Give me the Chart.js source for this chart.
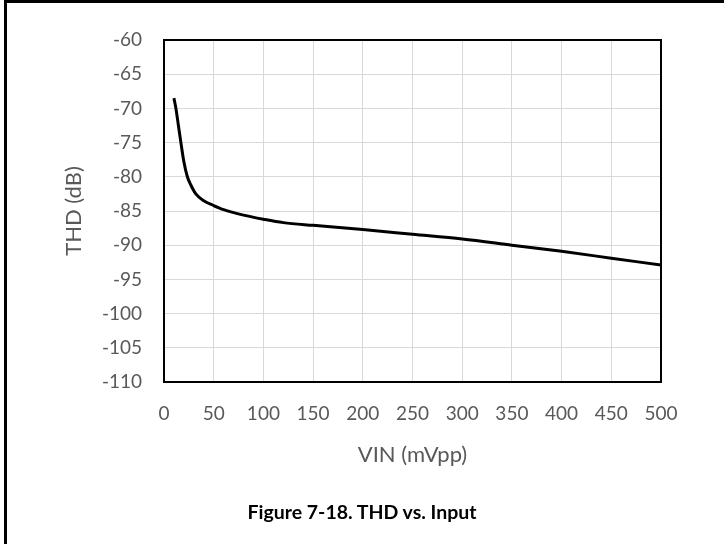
<!DOCTYPE html>
<html>
<head>
<meta charset="utf-8">
<script src="https://cdn.jsdelivr.net/npm/chart.js@4/dist/chart.umd.min.js"></script>
<style>
  html, body { margin: 0; padding: 0; background: #fff; }
  #wrap { position: relative; width: 724px; height: 544px; overflow: hidden; }
  #frame { position: absolute; left: 4px; top: 0; width: 730px; height: 560px;
           border-top: 3px solid #000; border-left: 3px solid #000; box-sizing: border-box; }
  #cv { position: absolute; left: 0; top: 0; }
  #caption { position: absolute; left: 0; width: 724px; top: 500px; text-align: center;
             font-family: Lato, "Noto Sans", sans-serif; font-weight: bold; font-size: 19.5px; color: #000; }
</style>
</head>
<body>
<div id="wrap">
  <div id="frame"></div>
  <canvas id="cv" width="724" height="544"></canvas>
  <div id="caption">Figure 7-18. THD vs. Input</div>
</div>
<script>
// input amplitude (mVpp) and measured THD (dB)
const vin = [10, 12, 14.5, 17, 20, 23.5, 27, 32, 40, 50, 60, 80, 100, 120, 150, 200, 250, 300, 350, 400, 450, 500];
const thd = [-68.5, -70, -72.5, -75, -77.8, -80, -81.2, -82.5, -83.5, -84.2, -84.8, -85.6, -86.2, -86.7, -87.1, -87.7, -88.4, -89.1, -90.0, -90.9, -91.9, -92.9];

const xTicks = [0, 50, 100, 150, 200, 250, 300, 350, 400, 450, 500];
const yTicks = [-60, -65, -70, -75, -80, -85, -90, -95, -100, -105, -110];

const tickFont = { family: "Lato, 'Noto Sans', sans-serif", size: 19 };
const titleFont = { family: "Lato, 'Noto Sans', sans-serif", size: 22 };
const gray = "#595959";

// black box around the plot area
const plotFrame = {
  id: "plotFrame",
  beforeDatasetsDraw(chart) {
    const a = chart.chartArea;
    const ctx = chart.ctx;
    ctx.save();
    ctx.strokeStyle = "#000";
    ctx.lineWidth = 2;
    ctx.strokeRect(a.left, a.top, a.right - a.left, a.bottom - a.top);
    ctx.restore();
  }
};

new Chart(document.getElementById("cv"), {
  type: "line",
  data: {
    datasets: [{
      data: vin.map((v, i) => ({ x: v, y: thd[i] })),
      borderColor: "#000",
      borderWidth: 3,
      pointRadius: 0,
      cubicInterpolationMode: "monotone",
      fill: false
    }]
  },
  options: {
    responsive: false,
    animation: false,
    layout: { padding: { left: 58, right: 63, top: 40, bottom: 76 } },
    plugins: { legend: { display: false }, tooltip: { enabled: false } },
    scales: {
      x: {
        type: "linear",
        min: 0,
        max: 500,
        afterBuildTicks(s) { s.ticks = xTicks.map(v => ({ value: v })); },
        afterFit(s) { s.height = 86; },
        grid: { color: "#d9d9d9", lineWidth: 1, drawTicks: false },
        border: { display: false },
        ticks: { color: gray, font: tickFont, padding: 20, maxRotation: 0 },
        title: { display: true, text: "VIN (mVpp)", color: gray, font: titleFont, padding: 0 }
      },
      y: {
        min: -110,
        max: -60,
        afterBuildTicks(s) { s.ticks = yTicks.map(v => ({ value: v })); },
        afterFit(s) { s.width = 106; },
        grid: { color: "#d9d9d9", lineWidth: 1, drawTicks: false },
        border: { display: false },
        ticks: { color: gray, font: tickFont, padding: 22 },
        title: { display: true, text: "THD (dB)", color: gray, font: titleFont, padding: { top: 3, bottom: 0 } }
      }
    }
  },
  plugins: [plotFrame]
});
</script>
</body>
</html>
